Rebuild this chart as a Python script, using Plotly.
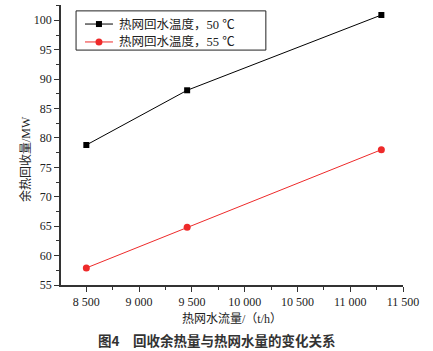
import plotly.graph_objects as go

flow = [8500, 9455, 11295]
heat_50 = [78.8, 88.1, 100.9]
heat_55 = [57.9, 64.8, 78.0]
names = ["热网回水温度，50 ℃", "热网回水温度，55 ℃"]
colors = ["#000000", "#ee2a2a"]
x_ticks = [8500, 9000, 9500, 10000, 10500, 11000, 11500]
x_labels = ["8 500", "9 000", "9 500", "10 000", "10 500", "11 000", "11 500"]
y_ticks = [55, 60, 65, 70, 75, 80, 85, 90, 95, 100]

serif = "Liberation Serif, Noto Sans CJK SC"

fig = go.Figure()
fig.add_trace(go.Scatter(x=flow, y=heat_50, name=names[0], mode="lines+markers",
                         line=dict(color=colors[0], width=1),
                         marker=dict(symbol="square", size=6, color=colors[0])))
fig.add_trace(go.Scatter(x=flow, y=heat_55, name=names[1], mode="lines+markers",
                         line=dict(color=colors[1], width=1),
                         marker=dict(symbol="circle", size=7, color=colors[1])))

fig.update_layout(
    width=433, height=351,
    margin=dict(l=61, r=30, t=5, b=66),
    plot_bgcolor="white", paper_bgcolor="white",
    font=dict(family=serif, size=12, color="#222"),
    showlegend=False,
    xaxis=dict(range=[8260, 11500], tickvals=x_ticks, ticktext=x_labels,
               ticks="outside", ticklen=5, tickwidth=1, tickcolor="#333",
               showline=True, linecolor="#333", linewidth=1.5, showgrid=False,
               zeroline=False,
               minor=dict(dtick=250, tick0=8250, ticks="outside", ticklen=3, tickcolor="#333"),
               tickfont=dict(family=serif, size=12),
               title=dict(text="热网水流量/（t/h）", font=dict(family=serif, size=12), standoff=6)),
    yaxis=dict(range=[55, 102.6], tickvals=y_ticks,
               ticks="outside", ticklen=5, tickwidth=1, tickcolor="#333",
               showline=True, linecolor="#333", linewidth=1.5, showgrid=False,
               zeroline=False,
               minor=dict(dtick=2.5, tick0=55, ticks="outside", ticklen=3, tickcolor="#333"),
               tickfont=dict(family=serif, size=12)),
)

# legend box drawn by hand
fig.add_shape(type="rect", xref="paper", yref="paper", x0=0.044, x1=0.599, y0=0.839, y1=0.979,
              line=dict(color="#222", width=1), fillcolor="rgba(0,0,0,0)")
rows = [0.932, 0.868]
for i, (nm, c, ry) in enumerate(zip(names, colors, rows)):
    fig.add_shape(type="line", xref="paper", yref="paper", x0=0.0702, x1=0.152, y0=ry, y1=ry,
                  line=dict(color=c, width=1))
    if i == 0:
        fig.add_shape(type="rect", xref="paper", yref="paper",
                      x0=0.111 - 0.0088, x1=0.111 + 0.0088, y0=ry - 0.0107, y1=ry + 0.0107,
                      line=dict(width=0), fillcolor=c)
    else:
        fig.add_shape(type="circle", xref="paper", yref="paper",
                      x0=0.111 - 0.0102, x1=0.111 + 0.0102, y0=ry - 0.0125, y1=ry + 0.0125,
                      line=dict(width=0), fillcolor=c)
    fig.add_annotation(text=nm, xref="paper", yref="paper", x=0.1637, y=ry,
                       xanchor="left", yanchor="middle", showarrow=False,
                       font=dict(family=serif, size=12.5, color="#222"))

fig.add_annotation(text="余热回收量/MW", xref="paper", yref="paper",
                   x=-0.105, y=0.45, xanchor="center", yanchor="middle", textangle=-90,
                   showarrow=False, font=dict(family=serif, size=12, color="#222"))
fig.add_annotation(text="<b>图4　回收余热量与热网水量的变化关系</b>", xref="paper", yref="paper",
                   x=0.455, y=-0.195, xanchor="center", yanchor="middle", showarrow=False,
                   font=dict(family="Noto Sans CJK SC", size=13.5, color="#333"))
fig.write_html("out.html")
